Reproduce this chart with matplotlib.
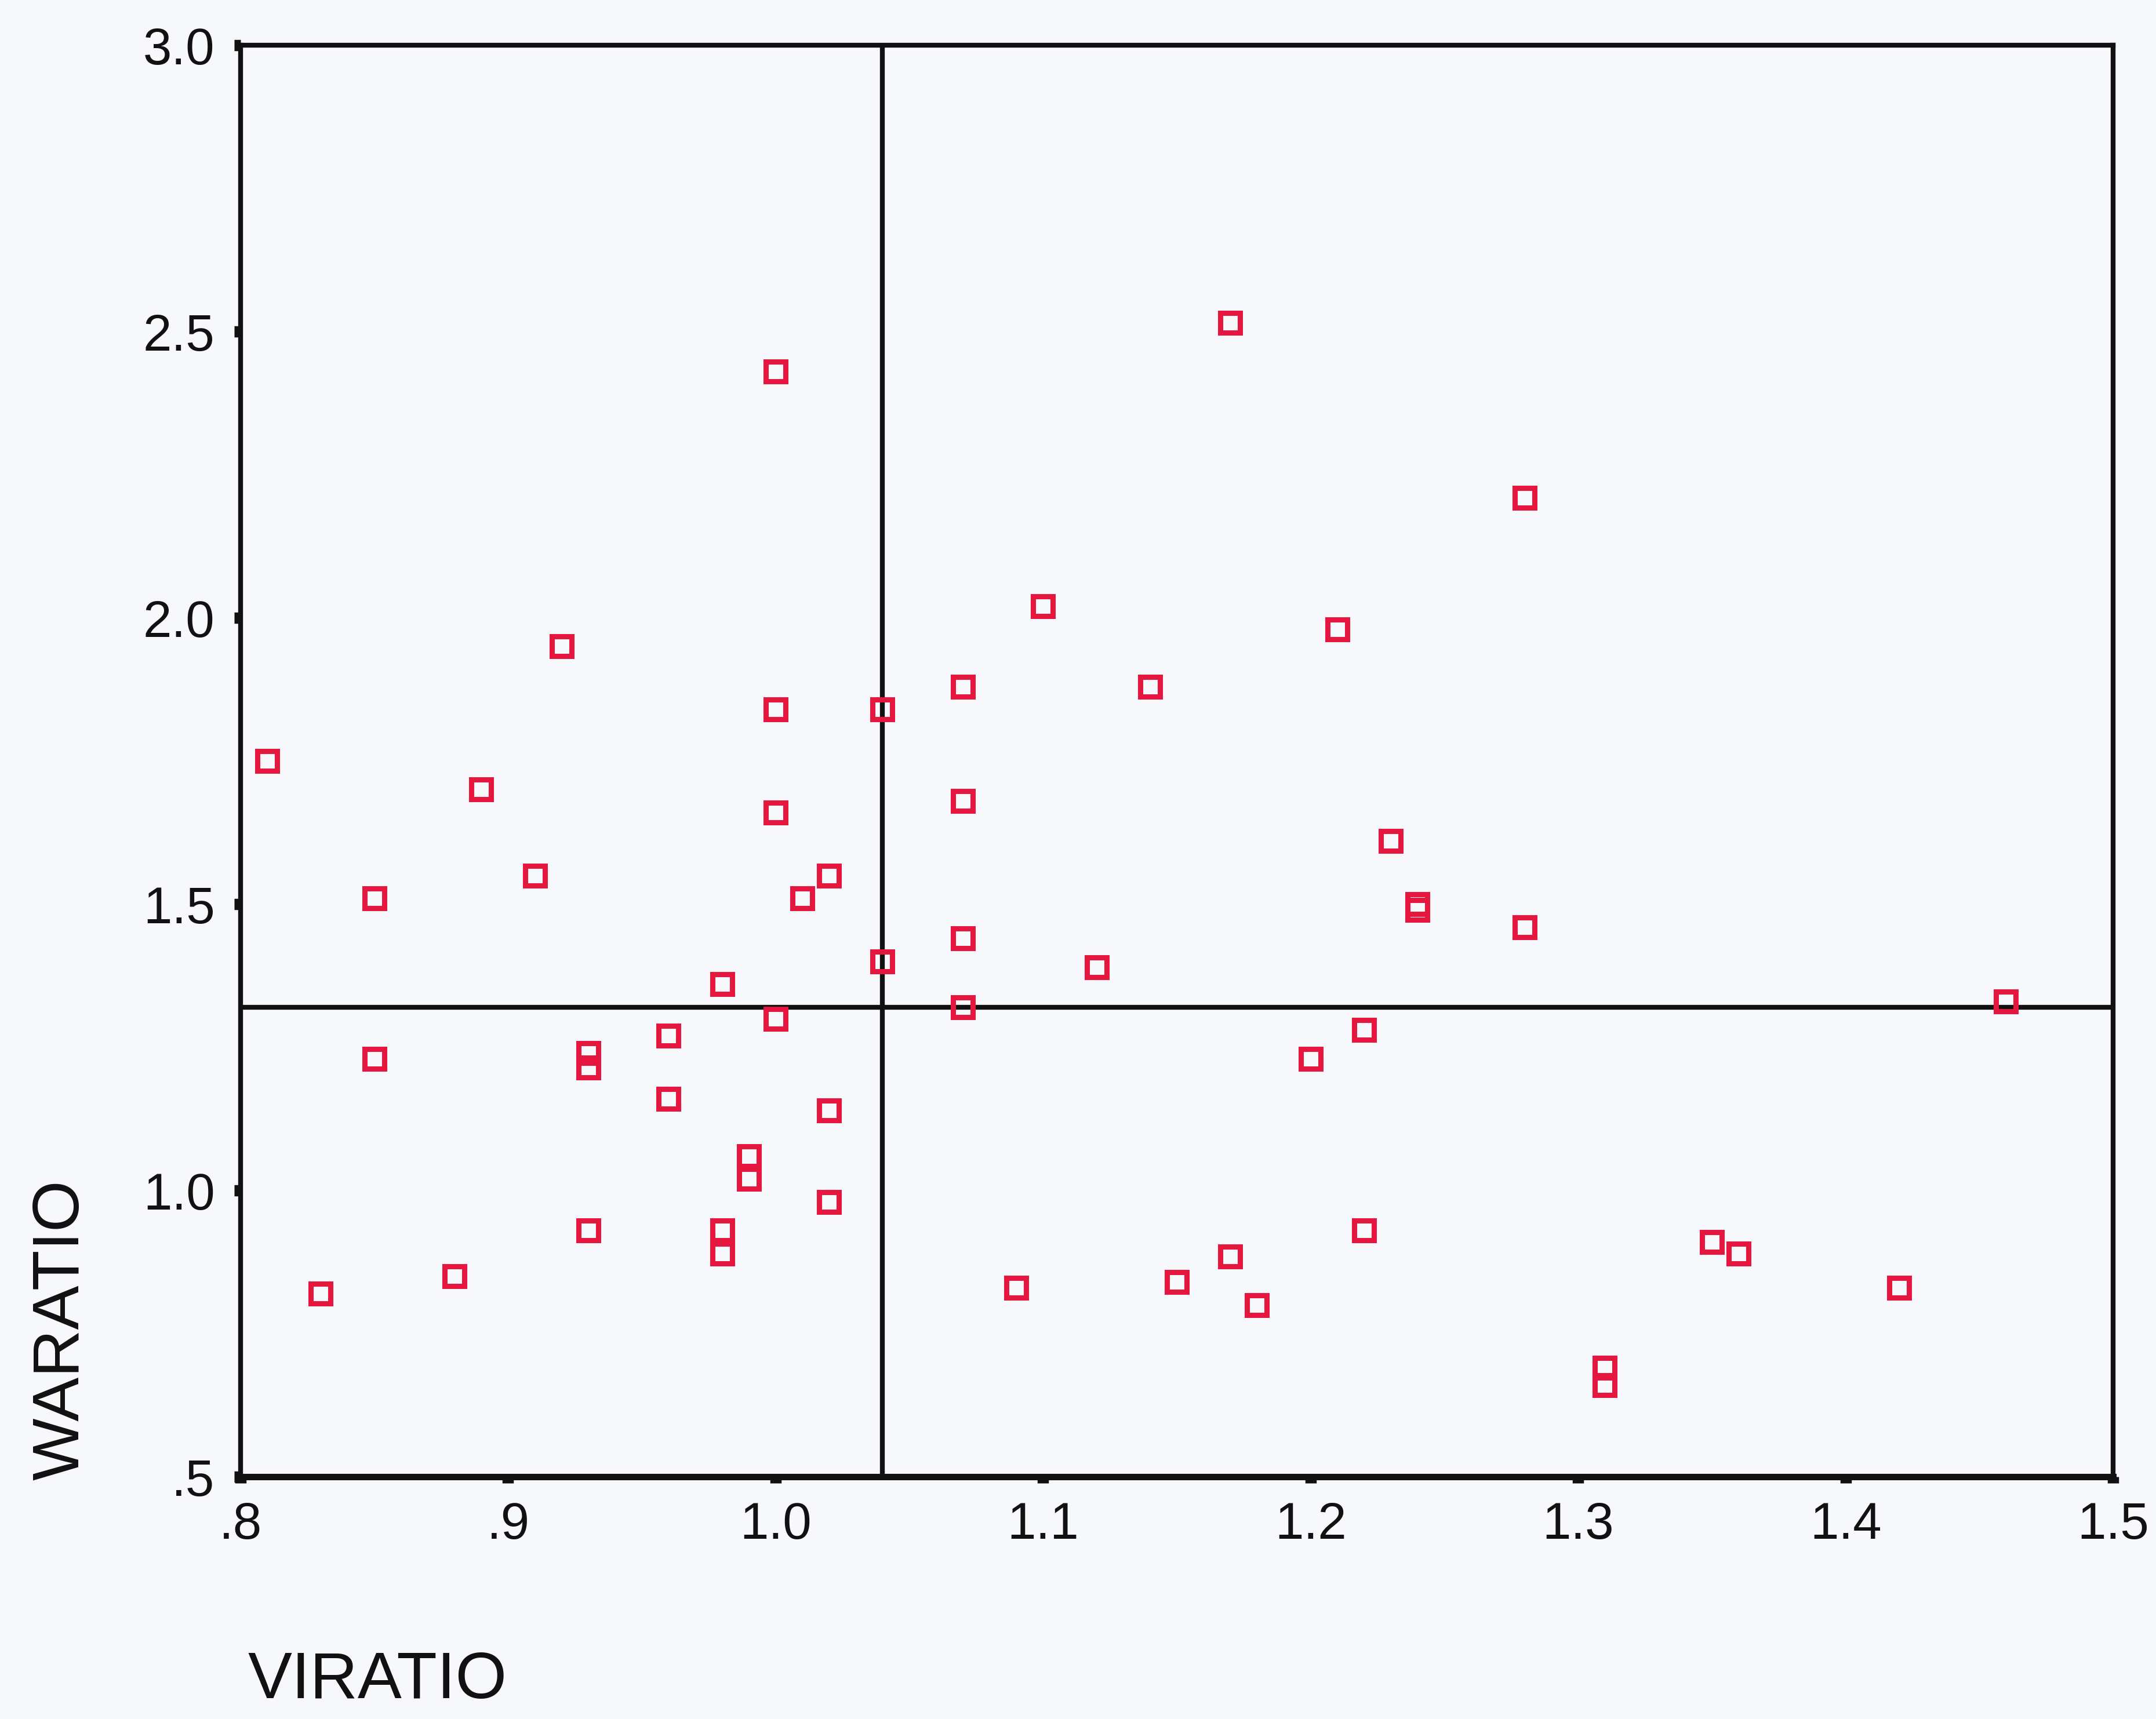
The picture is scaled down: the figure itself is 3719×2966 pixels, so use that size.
import matplotlib
matplotlib.use("Agg")
import matplotlib.pyplot as plt

plt.rcParams['font.family'] = ['Liberation Sans', 'DejaVu Sans']

# VIRATIO / WARATIO pairs
viratio = [0.81, 0.83, 0.85, 0.85, 0.88, 0.89, 0.91, 0.92, 0.93, 0.93,
           0.93, 0.96, 0.96, 0.98, 0.98, 0.98, 0.99, 0.99, 1.00, 1.00,
           1.00, 1.00, 1.01, 1.02, 1.02, 1.02, 1.04, 1.04, 1.07, 1.07,
           1.07, 1.07, 1.09, 1.10, 1.12, 1.14, 1.15, 1.17, 1.17, 1.18,
           1.20, 1.21, 1.22, 1.22, 1.23, 1.24, 1.24, 1.28, 1.28, 1.31,
           1.31, 1.35, 1.36, 1.42, 1.46]
waratio = [1.75, 0.82, 1.51, 1.23, 0.85, 1.70, 1.55, 1.95, 1.24, 1.215,
           0.93, 1.27, 1.16, 1.36, 0.93, 0.89, 1.06, 1.02, 2.43, 1.84,
           1.66, 1.30, 1.51, 1.55, 1.14, 0.98, 1.84, 1.40, 1.88, 1.68,
           1.44, 1.32, 0.83, 2.02, 1.39, 1.88, 0.84, 2.515, 0.885, 0.80,
           1.23, 1.98, 1.28, 0.93, 1.61, 1.50, 1.49, 2.21, 1.46, 0.69,
           0.66, 0.91, 0.89, 0.83, 1.33]

# reference lines
vi_ref = 1.04
wa_ref = 1.32

xticks = [0.8, 0.9, 1.0, 1.1, 1.2, 1.3, 1.4, 1.5]
xlabels = ['.8', '.9', '1.0', '1.1', '1.2', '1.3', '1.4', '1.5']
yticks = [0.5, 1.0, 1.5, 2.0, 2.5, 3.0]
ylabels = ['.5', '1.0', '1.5', '2.0', '2.5', '3.0']

bg = '#f6f8fb'
ink = '#111111'
fig = plt.figure(figsize=(37.19, 29.66), dpi=100, facecolor=bg)
ax = fig.add_axes([0.1116, 0.1409, 0.8685, 0.8328], facecolor=bg)

ax.axvline(vi_ref, color=ink, lw=6, zorder=1)
ax.axhline(wa_ref, color=ink, lw=6, zorder=1)
ax.plot(viratio, waratio, linestyle='none', marker='s', markersize=24,
        markerfacecolor='none', markeredgecolor='#e5173f', markeredgewidth=6.5,
        zorder=2, clip_on=False)

ax.set_xlim(0.8, 1.5)
ax.set_ylim(0.5, 3.0)
ax.set_xticks(xticks)
ax.set_xticklabels(xlabels)
ax.set_yticks(yticks)
ax.set_yticklabels(ylabels)

for side in ['top', 'right', 'left']:
    ax.spines[side].set_linewidth(6)
    ax.spines[side].set_color(ink)
ax.spines['bottom'].set_linewidth(8)
ax.spines['bottom'].set_color(ink)

ax.tick_params(axis='both', direction='out', length=8, width=14,
               color=ink, labelsize=64, labelcolor=ink)
ax.tick_params(axis='x', pad=22, top=False)
ax.tick_params(axis='y', pad=24, right=False)

fig.text(0.115, 0.004, 'VIRATIO', fontsize=82, color=ink,
         ha='left', va='bottom')
fig.text(0.0143, 0.1389, 'WARATIO', fontsize=82, color=ink,
         rotation=90, ha='left', va='bottom')

fig.savefig('out.png', dpi=100, facecolor=bg)
